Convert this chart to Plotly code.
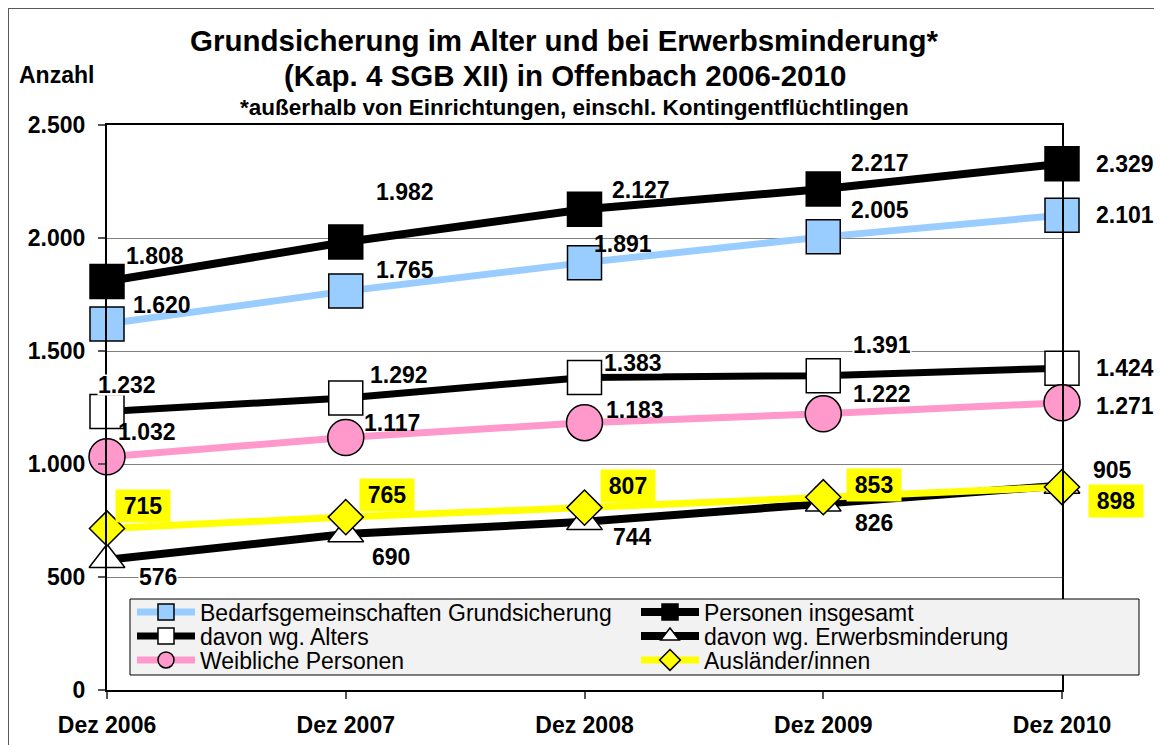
import plotly.graph_objects as go

# ---------------- data ----------------
categories = ["Dez 2006", "Dez 2007", "Dez 2008", "Dez 2009", "Dez 2010"]
bedarf = [1620, 1765, 1891, 2005, 2101]
personen = [1808, 1982, 2127, 2217, 2329]
alters = [1232, 1292, 1383, 1391, 1424]
erwerb = [576, 690, 744, 826, 905]
weiblich = [1032, 1117, 1183, 1222, 1271]
auslaender = [715, 765, 807, 853, 898]
y_tickvals = [0, 500, 1000, 1500, 2000, 2500]

names = {
    "bedarf": "Bedarfsgemeinschaften Grundsicherung",
    "personen": "Personen insgesamt",
    "alters": "davon wg. Alters",
    "erwerb": "davon wg. Erwerbsminderung",
    "weiblich": "Weibliche Personen",
    "auslaender": "Ausländer/innen",
}
values = {
    "bedarf": bedarf, "personen": personen, "alters": alters,
    "erwerb": erwerb, "weiblich": weiblich, "auslaender": auslaender,
}

# ---------------- styling ----------------
FONT = "Arial, 'Liberation Sans', sans-serif"
OFF = 8  # page body margin
W, H = 1154, 737
ML, MR, MT, MB = 99, 100, 117, 55
PW, PH = W - ML - MR, H - MT - MB


def px_x(p):
    return (p - OFF - ML) / PW


def px_y(p):
    return (H - MB - (p - OFF)) / PH


styles = {
    "bedarf": dict(lc="#99CCFF", lw=7, sym="square", fill="#99CCFF", size=34),
    "personen": dict(lc="black", lw=8, sym="square", fill="black", size=34),
    "alters": dict(lc="black", lw=7, sym="square", fill="white", size=34),
    "weiblich": dict(lc="#FF99CC", lw=7, sym="circle", fill="#FF99CC", size=36),
    "erwerb": dict(lc="black", lw=8, sym="triangle-up", fill="white", size=31),
    "auslaender": dict(lc="#FFFF00", lw=7, sym="diamond", fill="#FFFF00", size=27),
}
draw_order = ["bedarf", "personen", "alters", "weiblich", "erwerb", "auslaender"]

# legend slot: (legend id, column pixel x, row pixel y)
legend_slots = {
    "bedarf": ("legend", 132, 612),
    "personen": ("legend2", 636, 612),
    "alters": ("legend3", 132, 636),
    "erwerb": ("legend4", 636, 636),
    "weiblich": ("legend5", 132, 660),
    "auslaender": ("legend6", 636, 660),
}

# data label offsets in pixels (dx, dy up)
label_offsets = {
    "personen": [(48, 25), (59, 50), (56, 19), (57, 26), (63, 0)],
    "bedarf": [(55, 19), (59, 21), (38, 19), (57, 27), (63, 0)],
    "alters": [(20, 27), (53, 23), (48, 14), (59, 31), (63, 0)],
    "weiblich": [(40, 25), (46, 15), (50, 13), (59, 20), (63, -3)],
    "auslaender": [(36, 22), (41, 22), (43, 22), (51, 12), (54, -14)],
    "erwerb": [(51, -17), (45, -23), (48, -15), (51, -20), (50, 15)],
}
label_bg = {
    "personen": None, "bedarf": None, "weiblich": None,
    "alters": "white", "erwerb": "white", "auslaender": "#FFFF00",
}


def fmt(v):
    return f"{v:,}".replace(",", ".")


fig = go.Figure()
for key in draw_order:
    s = styles[key]
    leg = legend_slots[key][0]
    fig.add_trace(go.Scatter(
        x=categories, y=values[key], name=names[key], mode="lines+markers",
        line=dict(color=s["lc"], width=s["lw"]),
        marker=dict(symbol=s["sym"], size=s["size"], color=s["fill"],
                    line=dict(color="black", width=1.5)),
        legend=leg, cliponaxis=False,
    ))

annotations = []
for key in draw_order:
    for i, (c, v) in enumerate(zip(categories, values[key])):
        dx, dy = label_offsets[key][i]
        a = dict(x=c, y=v, xref="x", yref="y", text=fmt(v), showarrow=False,
                 xshift=dx, yshift=dy,
                 font=dict(family=FONT, size=23, color="black", weight="bold"))
        bg = label_bg[key]
        if bg == "#FFFF00":
            a.update(bgcolor=bg, width=46, height=24, borderpad=4)
        elif bg == "white":
            a.update(bgcolor=bg, height=20, borderpad=0)
        annotations.append(a)

# titles
annotations += [
    dict(xref="paper", yref="paper", x=px_x(564), y=px_y(41), showarrow=False,
         text="Grundsicherung im Alter und bei Erwerbsminderung*",
         font=dict(family=FONT, size=29.5, color="black", weight="bold"),
         xanchor="center", yanchor="middle"),
    dict(xref="paper", yref="paper", x=px_x(565), y=px_y(75.5), showarrow=False,
         text="(Kap. 4 SGB XII) in Offenbach 2006-2010",
         font=dict(family=FONT, size=29.5, color="black", weight="bold"),
         xanchor="center", yanchor="middle"),
    dict(xref="paper", yref="paper", x=px_x(574), y=px_y(107), showarrow=False,
         text="*außerhalb von Einrichtungen, einschl. Kontingentflüchtlingen",
         font=dict(family=FONT, size=22.5, color="black", weight="bold"),
         xanchor="center", yanchor="middle"),
    dict(xref="paper", yref="paper", x=px_x(56), y=px_y(75), showarrow=False,
         text="Anzahl",
         font=dict(family=FONT, size=23, color="black", weight="bold"),
         xanchor="center", yanchor="middle"),
]

shapes = [
    # legend box
    dict(type="rect", xref="paper", yref="paper", layer="above",
         x0=px_x(130), x1=px_x(1139), y0=px_y(675), y1=px_y(599),
         fillcolor="#F2F2F2", line=dict(color="black", width=1)),
    # outer chart frame
    dict(type="rect", xref="paper", yref="paper", layer="below",
         x0=px_x(8), x1=px_x(1190), y0=px_y(775), y1=px_y(8),
         fillcolor="rgba(0,0,0,0)", line=dict(color="#595959", width=2)),
]

layout = dict(
    width=W, height=H, autosize=False,
    margin=dict(l=ML, r=MR, t=MT, b=MB, autoexpand=False),
    paper_bgcolor="white", plot_bgcolor="white",
    separators=",.",
    font=dict(family=FONT, color="black"),
    annotations=annotations, shapes=shapes,
    xaxis=dict(type="category", categoryorder="array", categoryarray=categories,
               range=[0, len(categories) - 1], showgrid=False, automargin=False,
               showline=True, linecolor="black", linewidth=2, mirror=True,
               ticks="outside", ticklen=7, tickcolor="#555555", tickwidth=1.5,
               tickfont=dict(family=FONT, size=23, color="black", weight="bold"),
               ticklabelstandoff=6),
    yaxis=dict(range=[0, 2500], tickvals=y_tickvals, tickformat=",d",
               automargin=False,
               showgrid=True, gridcolor="#808080", gridwidth=1, zeroline=False,
               showline=True, linecolor="black", linewidth=2, mirror=True,
               ticks="outside", ticklen=7, tickcolor="#555555", tickwidth=1.5,
               tickfont=dict(family=FONT, size=23, color="black", weight="bold"),
               ticklabelstandoff=8),
    showlegend=True,
)

for key, (leg, lx, ly) in legend_slots.items():
    layout[leg] = dict(x=px_x(lx), y=px_y(ly), xanchor="left", yanchor="middle",
                       bgcolor="rgba(0,0,0,0)", borderwidth=0,
                       font=dict(family=FONT, size=23, color="black"),
                       itemwidth=58,
                       itemclick=False, itemdoubleclick=False,
                       tracegroupgap=0)

fig.update_layout(**layout)
fig.write_html("out.html")
